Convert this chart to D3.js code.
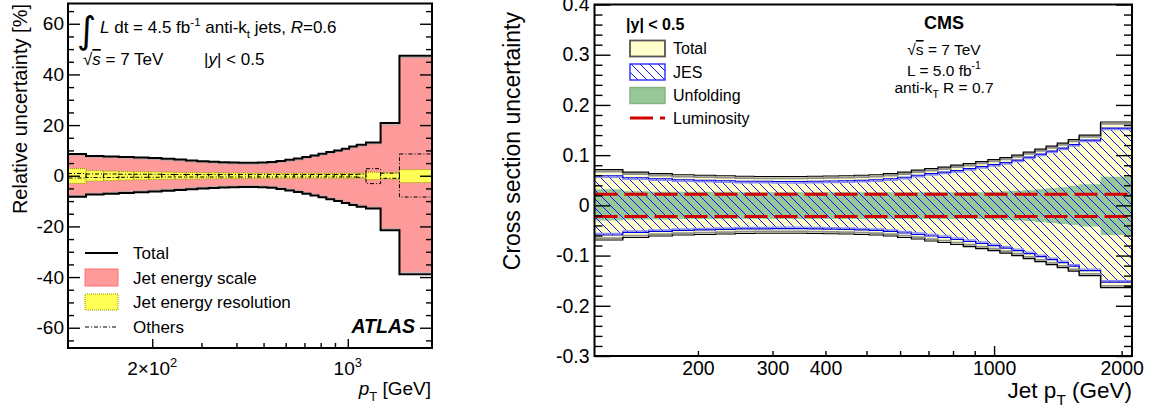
<!DOCTYPE html>
<html><head><meta charset="utf-8">
<script src="https://cdn.jsdelivr.net/npm/d3@7"></script>
<style>
html,body{margin:0;padding:0;background:#fff;}
svg{display:block;font-family:"Liberation Sans",Arial,Helvetica,sans-serif;}
</style></head><body>
<svg id="chart" width="1150" height="412"></svg>
<script>
// ---------------- ATLAS: relative uncertainty (%) vs jet pT, |y| < 0.5 ----------------
const atlasEdges = [100,116,134,152,172,194,216,240,264,290,318,346,376,408,442,478,516,556,598,642,688,736,786,838,894,952,1012,1076,1162,1310,1530,2000];
const atlasTotalUp   = [8.6,7.8,7.6,7.4,7.2,7.0,6.7,6.4,6.0,5.7,5.5,5.3,5.2,5.1,5.1,5.2,5.4,5.8,6.3,6.8,7.4,8.0,8.7,9.4,10.0,10.7,11.5,12.2,13.1,20.8,47.4];
const atlasTotalDown = [-8.3,-7.4,-7.1,-6.8,-6.5,-6.2,-5.9,-5.6,-5.3,-5.0,-4.8,-4.6,-4.5,-4.4,-4.4,-4.5,-4.7,-5.2,-5.8,-6.4,-7.1,-7.8,-8.5,-9.3,-10.0,-10.8,-11.5,-12.2,-12.9,-21.5,-38.9];
const atlasJesUp     = [8.1,7.3,7.1,6.9,6.7,6.5,6.2,5.9,5.5,5.2,5.0,4.8,4.7,4.6,4.6,4.7,4.9,5.3,5.8,6.3,6.9,7.5,8.2,8.9,9.5,10.2,11.0,11.7,12.6,20.1,46.6];
const atlasJesDown   = [-7.8,-6.9,-6.6,-6.3,-6.0,-5.7,-5.4,-5.1,-4.8,-4.5,-4.3,-4.1,-4.0,-3.9,-3.9,-4.0,-4.2,-4.7,-5.3,-5.9,-6.6,-7.3,-8.0,-8.8,-9.5,-10.3,-11.0,-11.7,-12.4,-20.9,-38.1];
const atlasJerUp     = [2.8,2.0,1.8,1.7,1.6,1.5,1.4,1.3,1.3,1.2,1.2,1.1,1.1,1.1,1.0,1.0,1.0,1.0,1.0,1.0,1.0,1.0,1.0,1.0,1.0,1.0,1.0,1.0,1.4,1.3,2.4];
const atlasJerDown   = [-3.0,-2.1,-1.9,-1.7,-1.6,-1.5,-1.4,-1.3,-1.3,-1.2,-1.2,-1.1,-1.1,-1.1,-1.0,-1.0,-1.0,-1.0,-1.0,-1.0,-1.0,-1.0,-1.0,-1.0,-1.0,-1.0,-1.0,-1.0,-1.5,-1.3,-2.7];
const atlasOthUp     = [0.9,0.7,0.7,0.6,0.6,0.6,0.5,0.5,0.5,0.5,0.5,0.5,0.5,0.5,0.5,0.5,0.5,0.5,0.5,0.5,0.5,0.5,0.5,0.5,0.5,0.5,0.5,0.6,2.8,1.0,8.6];
const atlasOthDown   = [-0.9,-0.7,-0.7,-0.6,-0.6,-0.6,-0.5,-0.5,-0.5,-0.5,-0.5,-0.5,-0.5,-0.5,-0.5,-0.5,-0.5,-0.5,-0.5,-0.5,-0.5,-0.5,-0.5,-0.5,-0.5,-0.5,-0.5,-0.6,-3.1,-1.0,-8.4];
const atlasYTicks = [-60,-40,-20,0,20,40,60];
const atlasXLabels = [{v:200, base:"2×10", exp:"2"}, {v:1000, base:"10", exp:"3"}];

// ---------------- CMS: cross section uncertainty vs jet pT, |y| < 0.5 ----------------
const cmsEdges = [114,133,153,174,196,220,245,272,300,330,362,395,430,468,507,548,592,638,686,737,790,846,905,967,1032,1101,1172,1248,1327,1410,1497,1588,1784,2116];
const cmsTotalUp   = [0.071,0.066,0.063,0.061,0.060,0.059,0.058,0.0575,0.0575,0.0575,0.058,0.0585,0.059,0.060,0.061,0.063,0.066,0.070,0.073,0.076,0.080,0.083,0.087,0.091,0.095,0.100,0.106,0.112,0.118,0.124,0.131,0.140,0.166];
const cmsTotalDown = [-0.069,-0.064,-0.061,-0.059,-0.058,-0.057,-0.056,-0.0555,-0.0555,-0.0555,-0.056,-0.0565,-0.057,-0.058,-0.059,-0.061,-0.064,-0.067,-0.071,-0.074,-0.078,-0.082,-0.086,-0.090,-0.095,-0.100,-0.106,-0.112,-0.118,-0.124,-0.131,-0.140,-0.164];
const cmsJesUp     = [0.059,0.055,0.053,0.051,0.050,0.049,0.048,0.048,0.0475,0.0475,0.048,0.0485,0.049,0.050,0.051,0.053,0.056,0.060,0.063,0.066,0.069,0.073,0.077,0.081,0.085,0.090,0.096,0.102,0.108,0.114,0.121,0.130,0.154];
const cmsJesDown   = [-0.059,-0.054,-0.052,-0.050,-0.049,-0.048,-0.047,-0.047,-0.0465,-0.0465,-0.047,-0.0475,-0.048,-0.049,-0.050,-0.052,-0.055,-0.058,-0.061,-0.064,-0.068,-0.072,-0.076,-0.080,-0.085,-0.090,-0.096,-0.102,-0.108,-0.114,-0.121,-0.130,-0.153];
const cmsUnfUp     = [0.032,0.028,0.027,0.027,0.027,0.027,0.026,0.026,0.026,0.026,0.026,0.026,0.026,0.026,0.026,0.026,0.026,0.026,0.026,0.026,0.026,0.026,0.026,0.027,0.028,0.029,0.030,0.032,0.034,0.036,0.039,0.042,0.057];
const cmsUnfDown   = [-0.030,-0.028,-0.028,-0.027,-0.027,-0.027,-0.027,-0.027,-0.027,-0.027,-0.027,-0.027,-0.027,-0.027,-0.027,-0.027,-0.027,-0.027,-0.027,-0.027,-0.027,-0.027,-0.027,-0.028,-0.029,-0.030,-0.031,-0.033,-0.035,-0.037,-0.039,-0.042,-0.059];
const cmsLumi = 0.022;
const cmsYTicks = [-0.3,-0.2,-0.1,0,0.1,0.2,0.3,0.4];
const cmsXLabels = [200,300,400,1000,2000];

const svg = d3.select("#chart");
const defs = svg.append("defs");

// ---------- helpers ----------
function stepRows(edges, series) {
  return edges.map((e, i) => {
    const r = {x: e};
    for (const k in series) r[k] = series[k][Math.min(i, series[k].length - 1)];
    return r;
  });
}
const stepLine = (xs, ys, key) => d3.line().curve(d3.curveStepAfter).x(d => xs(d.x)).y(d => ys(d[key]));
const stepArea = (xs, ys, k0, k1) => d3.area().curve(d3.curveStepAfter).x(d => xs(d.x)).y0(d => ys(d[k0])).y1(d => ys(d[k1]));
// plain hyphen for negative tick labels
const hyphen = f => d => f(d).replace("\u2212", "-");

function richText(sel, x, y, parts, fs, anchor) {
  const t = sel.append("text").attr("x", x).attr("y", y).attr("font-size", fs)
    .attr("text-anchor", anchor || "start").attr("fill", "#000");
  let shift = 0;
  parts.forEach(p => {
    const s = t.append("tspan").text(p.t);
    let target = 0, size = fs;
    if (p.sup) { target = -0.42 * fs; size = 0.68 * fs; }
    if (p.sub) { target = 0.32 * fs; size = 0.68 * fs; }
    s.attr("dy", target - shift); shift = target;
    if (size !== fs) s.attr("font-size", size);
    if (p.it) s.attr("font-style", "italic");
    if (p.b) s.attr("font-weight", "bold");
    if (p.over) s.attr("text-decoration", "overline");
  });
  return t;
}

function styleAxis(g) {
  g.select(".domain").remove();
  g.selectAll(".tick line").attr("stroke", "#000").attr("stroke-width", 1.4);
  g.attr("font-family", null);
}

// =====================================================================
// ATLAS panel
// =====================================================================
const A = {x0: 68, x1: 432, y0: 3.5, y1: 348};
const xa = d3.scaleLog().domain([100, 2000]).range([A.x0, A.x1]);
const ya = d3.scaleLinear().domain([-68, 68]).range([A.y1, A.y0]);

defs.append("clipPath").attr("id", "clipA").append("rect")
  .attr("x", A.x0).attr("y", A.y0).attr("width", A.x1 - A.x0).attr("height", A.y1 - A.y0);

const gA = svg.append("g");
const pA = gA.append("g").attr("clip-path", "url(#clipA)");
const rowsA = stepRows(atlasEdges, {tu: atlasTotalUp, tl: atlasTotalDown, ju: atlasJesUp, jl: atlasJesDown});

// jet energy scale band
pA.append("path").datum(rowsA).attr("d", stepArea(xa, ya, "jl", "ju")).attr("fill", "#ff9a9a");
["ju", "jl"].forEach(k => pA.append("path").datum(rowsA).attr("d", stepLine(xa, ya, k))
  .attr("fill", "none").attr("stroke", "#b9a3a3").attr("stroke-width", 1.2));
// total
["tu", "tl"].forEach(k => pA.append("path").datum(rowsA).attr("d", stepLine(xa, ya, k))
  .attr("fill", "none").attr("stroke", "#000").attr("stroke-width", 2));

const binsA = d3.range(atlasEdges.length - 1).map(i => ({
  a: atlasEdges[i], b: atlasEdges[i + 1],
  ru: atlasJerUp[i], rl: atlasJerDown[i], ou: atlasOthUp[i], ol: atlasOthDown[i]
}));
// jet energy resolution boxes
pA.selectAll(".jer").data(binsA).join("rect").attr("class", "jer")
  .attr("x", d => xa(d.a)).attr("width", d => xa(d.b) - xa(d.a))
  .attr("y", d => ya(d.ru)).attr("height", d => ya(d.rl) - ya(d.ru))
  .attr("fill", "#ffff55").attr("stroke", "#8f9a00").attr("stroke-width", 1).attr("stroke-dasharray", "1,1");
// other uncertainties (dash-dot)
pA.selectAll(".oth").data(binsA).join("rect").attr("class", "oth")
  .attr("x", d => xa(d.a)).attr("width", d => xa(d.b) - xa(d.a))
  .attr("y", d => ya(d.ou)).attr("height", d => ya(d.ol) - ya(d.ou))
  .attr("fill", "none").attr("stroke", "#000").attr("stroke-width", 1).attr("stroke-dasharray", "4,2,1,2");

// axes (ticks pointing inward)
const aMinorY = d3.range(-65, 66, 5).filter(v => v % 20 !== 0);
gA.append("g").attr("transform", `translate(${A.x0},0)`)
  .call(d3.axisLeft(ya).tickValues(aMinorY).tickSize(-6).tickFormat(() => "")).call(styleAxis);
gA.append("g").attr("transform", `translate(${A.x0},0)`)
  .call(d3.axisLeft(ya).tickValues(atlasYTicks).tickSize(-12).tickPadding(4).tickFormat(hyphen(d3.format("d"))))
  .call(styleAxis)
  .call(g => g.selectAll("text").attr("font-size", 19).attr("fill", "#000"));
gA.append("g").attr("transform", `translate(${A.x1},0)`)
  .call(d3.axisRight(ya).tickValues(aMinorY).tickSize(-6).tickFormat(() => "")).call(styleAxis);
gA.append("g").attr("transform", `translate(${A.x1},0)`)
  .call(d3.axisRight(ya).tickValues(atlasYTicks).tickSize(-12).tickFormat(() => "")).call(styleAxis);

const aMinorX = [300,400,500,600,700,800,900];
gA.append("g").attr("transform", `translate(0,${A.y1})`)
  .call(d3.axisBottom(xa).tickValues(aMinorX).tickSize(-5).tickFormat(() => "")).call(styleAxis);
gA.append("g").attr("transform", `translate(0,${A.y1})`)
  .call(d3.axisBottom(xa).tickValues(atlasXLabels.map(d => d.v)).tickSize(-9).tickFormat(() => "")).call(styleAxis);
atlasXLabels.forEach(d => richText(gA, xa(d.v), 375, [{t: d.base}, {t: d.exp, sup: true}], 19, "middle"));

gA.append("rect").attr("x", A.x0).attr("y", A.y0).attr("width", A.x1 - A.x0).attr("height", A.y1 - A.y0)
  .attr("fill", "none").attr("stroke", "#000").attr("stroke-width", 2);

// axis titles
richText(gA, 0, 0, [{t: "Relative uncertainty [%]"}], 20, "end").attr("transform", "translate(27,4) rotate(-90)");
richText(gA, 431, 395, [{t: "p", it: true}, {t: "T", sub: true}, {t: " [GeV]"}], 19, "end");

// annotations
gA.append("text").attr("x", 77).attr("y", 43).attr("font-size", 37).attr("font-family", "DejaVu Sans").text("∫");
richText(gA, 100, 33, [{t: "L", it: true}, {t: " dt = 4.5 fb"}, {t: "-1", sup: true}, {t: " anti-k"}, {t: "t", sub: true},
  {t: " jets, "}, {t: "R", it: true}, {t: "=0.6"}], 17);
richText(gA, 83, 65, [{t: "√"}, {t: "s", it: true, over: true}, {t: " = 7 TeV"}], 17);
richText(gA, 204, 65, [{t: "|"}, {t: "y", it: true}, {t: "| < 0.5"}], 17);
gA.append("text").attr("x", 415).attr("y", 333).attr("font-size", 19.5).attr("font-weight", "bold")
  .attr("font-style", "italic").attr("text-anchor", "end").text("ATLAS");

// legend
const legA = gA.append("g");
const lgX = 85, lgW = 33, lgTx = 133;
legA.append("line").attr("x1", lgX).attr("x2", lgX + lgW).attr("y1", 253).attr("y2", 253).attr("stroke", "#000").attr("stroke-width", 2);
legA.append("rect").attr("x", lgX).attr("y", 269).attr("width", lgW).attr("height", 17).attr("fill", "#ff9a9a").attr("stroke", "#ff7070");
legA.append("rect").attr("x", lgX).attr("y", 294).attr("width", lgW).attr("height", 16).attr("fill", "#ffff55")
  .attr("stroke", "#8f9a00").attr("stroke-dasharray", "1,1");
legA.append("line").attr("x1", lgX).attr("x2", lgX + lgW).attr("y1", 327).attr("y2", 327).attr("stroke", "#000")
  .attr("stroke-width", 1.2).attr("stroke-dasharray", "4,2,1,2");
[["Total", 253], ["Jet energy scale", 277.5], ["Jet energy resolution", 302], ["Others", 327]].forEach(([t, y]) =>
  legA.append("text").attr("x", lgTx).attr("y", y).attr("dy", "0.36em").attr("font-size", 17).text(t));

// =====================================================================
// CMS panel
// =====================================================================
const C = {x0: 594.5, x1: 1132, y0: 4.5, y1: 356};
const xc = d3.scaleLog().domain([114, 2116]).range([C.x0, C.x1]);
const yc = d3.scaleLinear().domain([-0.3, 0.4]).range([C.y1, C.y0]);

defs.append("clipPath").attr("id", "clipC").append("rect")
  .attr("x", C.x0).attr("y", C.y0).attr("width", C.x1 - C.x0).attr("height", C.y1 - C.y0);
const hatch = defs.append("pattern").attr("id", "jesHatch").attr("patternUnits", "userSpaceOnUse")
  .attr("width", 9).attr("height", 9);
hatch.append("path").attr("d", "M-1,-1 L10,10 M-1,8 L1,10 M8,-1 L10,1")
  .attr("stroke", "#1010ff").attr("stroke-width", 1).attr("fill", "none");

const gC = svg.append("g");
const pC = gC.append("g").attr("clip-path", "url(#clipC)");
const rowsC = stepRows(cmsEdges, {tu: cmsTotalUp, tl: cmsTotalDown, ju: cmsJesUp, jl: cmsJesDown, uu: cmsUnfUp, ul: cmsUnfDown});

pC.append("path").datum(rowsC).attr("d", stepArea(xc, yc, "tl", "tu")).attr("fill", "#ffffcc");
pC.append("path").datum(rowsC).attr("d", stepArea(xc, yc, "ul", "uu")).attr("fill", "#97c897");
pC.append("path").datum(rowsC).attr("d", stepArea(xc, yc, "jl", "ju")).attr("fill", "url(#jesHatch)");
// JES outline with a lighter inner edge
pC.append("path").datum(rowsC).attr("d", stepLine(xc, yc, "ju")).attr("transform", "translate(0,1.5)")
  .attr("fill", "none").attr("stroke", "#8c8cff").attr("stroke-width", 1.3);
pC.append("path").datum(rowsC).attr("d", stepLine(xc, yc, "jl")).attr("transform", "translate(0,-1.5)")
  .attr("fill", "none").attr("stroke", "#8c8cff").attr("stroke-width", 1.3);
["ju", "jl"].forEach(k => pC.append("path").datum(rowsC).attr("d", stepLine(xc, yc, k))
  .attr("fill", "none").attr("stroke", "#0000e6").attr("stroke-width", 1.2));
// total outline with a grey inner edge
pC.append("path").datum(rowsC).attr("d", stepLine(xc, yc, "tu")).attr("transform", "translate(0,1.8)")
  .attr("fill", "none").attr("stroke", "#8f8f8f").attr("stroke-width", 1.8);
pC.append("path").datum(rowsC).attr("d", stepLine(xc, yc, "tl")).attr("transform", "translate(0,-1.8)")
  .attr("fill", "none").attr("stroke", "#8f8f8f").attr("stroke-width", 1.8);
["tu", "tl"].forEach(k => pC.append("path").datum(rowsC).attr("d", stepLine(xc, yc, k))
  .attr("fill", "none").attr("stroke", "#000").attr("stroke-width", 1.2));
// luminosity
[cmsLumi, -cmsLumi].forEach(v => pC.append("line").attr("x1", C.x0).attr("x2", C.x1)
  .attr("y1", yc(v)).attr("y2", yc(v)).attr("stroke", "#d40000").attr("stroke-width", 3).attr("stroke-dasharray", "23,7"));

// axes
const cMinorY = d3.range(-15, 21).filter(k => k % 5 !== 0).map(k => k * 0.02);
gC.append("g").attr("transform", `translate(${C.x0},0)`)
  .call(d3.axisLeft(yc).tickValues(cMinorY).tickSize(-8).tickFormat(() => "")).call(styleAxis);
gC.append("g").attr("transform", `translate(${C.x0},0)`)
  .call(d3.axisLeft(yc).tickValues(cmsYTicks).tickSize(-16).tickPadding(5)
    .tickFormat(d => d === 0 ? "0" : hyphen(d3.format(".1f"))(d)))
  .call(styleAxis)
  .call(g => g.selectAll("text").attr("font-size", 19.5).attr("fill", "#000"));
gC.append("g").attr("transform", `translate(${C.x1},0)`)
  .call(d3.axisRight(yc).tickValues(cMinorY).tickSize(-8).tickFormat(() => "")).call(styleAxis);
gC.append("g").attr("transform", `translate(${C.x1},0)`)
  .call(d3.axisRight(yc).tickValues(cmsYTicks).tickSize(-16).tickFormat(() => "")).call(styleAxis);

const cMinorX = [200,300,400,500,600,700,800,900,2000];
gC.append("g").attr("transform", `translate(0,${C.y1})`)
  .call(d3.axisBottom(xc).tickValues(cMinorX).tickSize(-5).tickFormat(() => "")).call(styleAxis);
gC.append("g").attr("transform", `translate(0,${C.y1})`)
  .call(d3.axisBottom(xc).tickValues([1000]).tickSize(-10).tickFormat(() => "")).call(styleAxis);
gC.append("g").attr("transform", `translate(0,${C.y1})`)
  .call(d3.axisBottom(xc).tickValues(cmsXLabels).tickSize(0).tickPadding(5.5).tickFormat(d3.format("d")))
  .call(styleAxis)
  .call(g => g.selectAll("text").attr("font-size", 19.5).attr("fill", "#000"));

gC.append("rect").attr("x", C.x0).attr("y", C.y0).attr("width", C.x1 - C.x0).attr("height", C.y1 - C.y0)
  .attr("fill", "none").attr("stroke", "#000").attr("stroke-width", 2);

richText(gC, 0, 0, [{t: "Cross section uncertainty"}], 23, "end").attr("transform", "translate(520,12) rotate(-90)");
richText(gC, 1132, 398, [{t: "Jet p"}, {t: "T", sub: true}, {t: " (GeV)"}], 22.5, "end");

// annotations
gC.append("text").attr("x", 944).attr("y", 29).attr("font-size", 18).attr("font-weight", "bold")
  .attr("text-anchor", "middle").text("CMS");
richText(gC, 944, 55, [{t: "√"}, {t: "s", over: true}, {t: " = 7 TeV"}], 15.5, "middle");
richText(gC, 944, 76, [{t: "L = 5.0 fb"}, {t: "-1", sup: true}], 15.5, "middle");
richText(gC, 944, 93, [{t: "anti-k"}, {t: "T", sub: true}, {t: " R = 0.7"}], 15.5, "middle");

// legend
const legC = gC.append("g");
legC.append("text").attr("x", 626).attr("y", 30).attr("font-size", 16).attr("font-weight", "bold").text("|y| < 0.5");
const bx = 630, bw = 35, bh = 16, tx = 673;
legC.append("rect").attr("x", bx).attr("y", 40.5).attr("width", bw).attr("height", bh).attr("fill", "#ffffcc")
  .attr("stroke", "#555").attr("stroke-width", 1.8);
legC.append("rect").attr("x", bx).attr("y", 64).attr("width", bw).attr("height", bh).attr("fill", "url(#jesHatch)")
  .attr("stroke", "#2a2aff").attr("stroke-width", 1.4);
legC.append("rect").attr("x", bx).attr("y", 87.5).attr("width", bw).attr("height", bh).attr("fill", "#97c897")
  .attr("stroke", "#86b086").attr("stroke-width", 1.4);
legC.append("line").attr("x1", bx).attr("x2", bx + bw).attr("y1", 118).attr("y2", 118).attr("stroke", "#d40000")
  .attr("stroke-width", 3).attr("stroke-dasharray", "23,7");
[["Total", 48.5], ["JES", 72], ["Unfolding", 95.5], ["Luminosity", 118]].forEach(([t, y]) =>
  legC.append("text").attr("x", tx).attr("y", y).attr("dy", "0.36em").attr("font-size", 16).text(t));
</script>
</body></html>
